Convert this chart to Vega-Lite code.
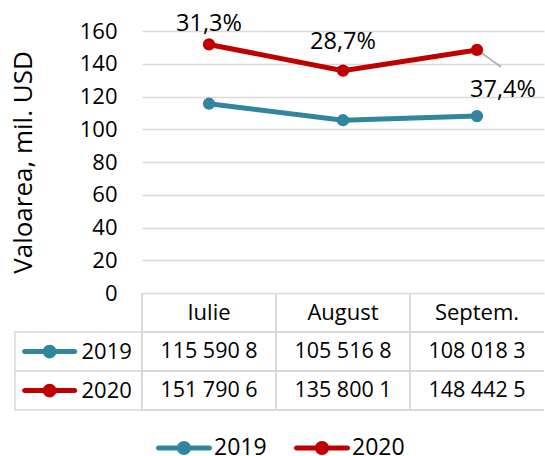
{
  "$schema": "https://vega.github.io/schema/vega-lite/v6.json",
  "padding": {"left": 10, "top": 12, "right": 0, "bottom": 0},
  "config": {
    "font": "Open Sans",
    "view": {"stroke": null},
    "text": {"font": "Open Sans", "fontSize": 22, "color": "black"}
  },
  "data": {
    "values": [
      {"luna": "Iulie", "an": "2019", "valoare": 115.5908, "tabel": "115 590 8"},
      {"luna": "August", "an": "2019", "valoare": 105.5168, "tabel": "105 516 8"},
      {"luna": "Septem.", "an": "2019", "valoare": 108.0183, "tabel": "108 018 3"},
      {"luna": "Iulie", "an": "2020", "valoare": 151.7906, "tabel": "151 790 6", "crestere": "31,3%"},
      {"luna": "August", "an": "2020", "valoare": 135.8001, "tabel": "135 800 1", "crestere": "28,7%"},
      {"luna": "Septem.", "an": "2020", "valoare": 148.4425, "tabel": "148 442 5", "crestere": "37,4%"}
    ]
  },
  "columns": 2,
  "spacing": 0,
  "bounds": "flush",
  "resolve": {"scale": {"x": "independent", "y": "independent"}},
  "concat": [
    {
      "width": 127,
      "height": 262,
      "mark": {"type": "text", "opacity": 0},
      "encoding": {}
    },
    {
      "width": 402,
      "height": 262,
      "encoding": {
        "x": {"field": "luna", "type": "nominal", "sort": ["Iulie", "August", "Septem."], "scale": {"type": "point", "padding": 0.5}, "axis": null},
        "y": {
          "field": "valoare", "type": "quantitative",
          "scale": {"domain": [0, 160], "nice": false},
          "axis": {
            "title": "Valoarea, mil. USD",
            "values": [0, 20, 40, 60, 80, 100, 120, 140, 160],
            "grid": true, "gridColor": "#D9D9D9", "gridWidth": 1.5,
            "domain": false, "ticks": false,
            "labelPadding": 25, "labelFontSize": 22, "labelFont": "Open Sans", "labelColor": "black",
            "titleFontSize": 26, "titleFont": "Open Sans", "titleFontWeight": "normal", "titleColor": "black",
            "titlePadding": 42, "minExtent": 64, "maxExtent": 64
          }
        }
      },
      "layer": [
        {
          "transform": [{"filter": "datum.luna == 'Septem.' && datum.an == '2020'"}],
          "mark": {"type": "rule", "color": "#A6A6A6", "strokeWidth": 1.5, "x2Offset": 24, "y2Offset": 17},
          "encoding": {"x2": {"field": "luna"}, "y2": {"field": "valoare"}}
        },
        {
          "mark": {"type": "line", "strokeWidth": 5},
          "encoding": {
            "color": {
              "field": "an", "type": "nominal",
              "scale": {"domain": ["2019", "2020"], "range": ["#31859C", "#C00000"]},
              "legend": {
                "orient": "none", "legendX": 155, "legendY": 403, "direction": "horizontal",
                "title": null,
                "symbolType": "M-1.82,-0.18H1.82A0.18,0.18 0 0,1 1.82,0.18H-1.82A0.18,0.18 0 0,1 -1.82,-0.18Z M-0.5,0A0.5,0.5 0 1,1 0.5,0A0.5,0.5 0 1,1 -0.5,0Z",
                "symbolSize": 784, "symbolStrokeWidth": 0, "symbolOpacity": 1,
                "labelFont": "Open Sans", "labelFontSize": 23, "labelColor": "black",
                "labelOffset": 16, "columnPadding": 27,
                "encode": {"symbols": {"update": {"fill": {"scale": "color", "field": "value"}, "stroke": {"value": "transparent"}, "opacity": {"value": 1}}}}
              }
            }
          }
        },
        {
          "mark": {"type": "circle", "size": 150, "opacity": 1},
          "encoding": {"color": {"field": "an", "type": "nominal"}}
        },
        {
          "transform": [{"filter": "datum.luna == 'Iulie' && datum.an == '2020'"}],
          "mark": {"type": "text", "dy": -20, "fontSize": 23.5},
          "encoding": {"text": {"field": "crestere"}}
        },
        {
          "transform": [{"filter": "datum.luna == 'August' && datum.an == '2020'"}],
          "mark": {"type": "text", "dy": -29, "fontSize": 23.5},
          "encoding": {"text": {"field": "crestere"}}
        },
        {
          "transform": [{"filter": "datum.luna == 'Septem.' && datum.an == '2020'"}],
          "mark": {"type": "text", "dx": 26, "dy": 40, "fontSize": 23.5},
          "encoding": {"text": {"field": "crestere"}}
        }
      ]
    },
    {
      "width": 127,
      "height": 117,
      "layer": [
        {
          "transform": [{"filter": "datum.luna == 'Iulie'"}],
          "mark": {"type": "rect", "fill": "white", "stroke": "#D9D9D9", "strokeWidth": 1.5},
          "encoding": {
            "y": {"field": "an", "type": "nominal", "scale": {"domain": ["antet", "2019", "2020"], "paddingInner": 0, "paddingOuter": 0}, "axis": null}
          }
        },
        {
          "transform": [{"filter": "datum.luna == 'Iulie'"}],
          "mark": {"type": "point", "shape": "M-0.91,-0.09H0.91A0.09,0.09 0 0,1 0.91,0.09H-0.91A0.09,0.09 0 0,1 -0.91,-0.09Z M-0.25,0A0.25,0.25 0 1,1 0.25,0A0.25,0.25 0 1,1 -0.25,0Z", "size": 3025, "filled": true, "opacity": 1, "strokeWidth": 0},
          "encoding": {
            "x": {"datum": "simbol", "type": "nominal", "scale": {"type": "band", "domain": ["simbol", "eticheta"], "paddingInner": 0, "paddingOuter": 0.1}, "axis": null},
            "y": {"field": "an", "type": "nominal", "axis": null},
            "color": {"field": "an", "type": "nominal"}
          }
        },
        {
          "transform": [{"filter": "datum.luna == 'Iulie'"}],
          "mark": {"type": "text", "align": "left", "dx": 3, "fontSize": 22},
          "encoding": {
            "x": {"datum": "eticheta", "type": "nominal", "bandPosition": 0},
            "y": {"field": "an", "type": "nominal", "axis": null},
            "text": {"field": "an"}
          }
        }
      ]
    },
    {
      "width": 402,
      "height": 117,
      "layer": [
        {
          "mark": {"type": "rule", "color": "#D9D9D9", "strokeWidth": 1.5},
          "encoding": {
            "x": {"field": "luna", "type": "nominal", "sort": ["Iulie", "August", "Septem."], "bandPosition": 0, "scale": {"type": "band", "paddingInner": 0, "paddingOuter": 0}, "axis": null}
          }
        },
        {
          "mark": {"type": "rule", "color": "#D9D9D9", "strokeWidth": 1.5},
          "encoding": {
            "y": {"field": "an", "type": "nominal", "bandPosition": 0, "scale": {"domain": ["antet", "2019", "2020"], "paddingInner": 0, "paddingOuter": 0}, "axis": null}
          }
        },
        {
          "mark": {"type": "rule", "color": "#D9D9D9", "strokeWidth": 1.5},
          "encoding": {
            "y": {"field": "an", "type": "nominal", "bandPosition": 1}
          }
        },
        {
          "transform": [{"filter": "datum.an == '2019'"}],
          "mark": {"type": "text", "fontSize": 22},
          "encoding": {
            "x": {"field": "luna", "type": "nominal", "sort": ["Iulie", "August", "Septem."]},
            "y": {"datum": "antet", "type": "nominal"},
            "text": {"field": "luna"}
          }
        },
        {
          "mark": {"type": "text", "fontSize": 21.5},
          "encoding": {
            "x": {"field": "luna", "type": "nominal", "sort": ["Iulie", "August", "Septem."]},
            "y": {"field": "an", "type": "nominal"},
            "text": {"field": "tabel"}
          }
        }
      ]
    }
  ]
}
